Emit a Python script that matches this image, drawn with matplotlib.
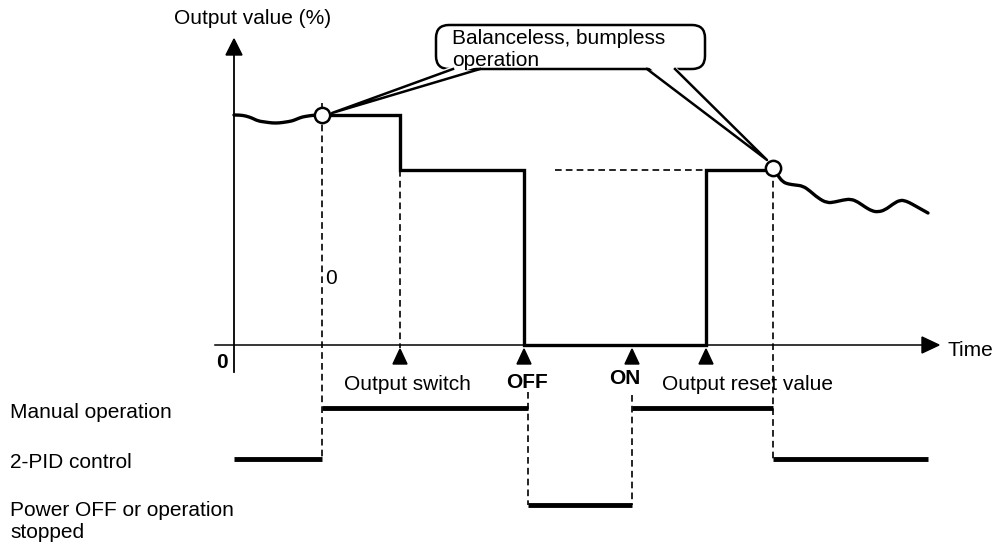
import numpy as np
import matplotlib.pyplot as plt
from matplotlib.patches import FancyBboxPatch, Polygon, PathPatch
from matplotlib.path import Path

plt.rcParams['font.family'] = ['Liberation Sans', 'DejaVu Sans']

# diagram coordinates are in picture units (x to the right, y downwards)
t_switch_on = 322      # manual operation starts
t_output_switch = 400
t_off = 524
t_on = 632
t_reset = 706
t_back = 773           # back to 2-PID control
t_end = 928

y_zero = 345
y_high = 115
y_mid = 170

# measured output before / after manual operation
wave_left_x = [234, 240, 246, 252, 258, 265, 272, 279, 286, 292, 297, 302, 308, 315, 322]
wave_left_y = [115, 115, 116, 118, 121, 122, 123, 123, 122, 121, 119, 117, 116, 115, 115]
wave_right_x = [773, 778, 783, 788, 795, 803, 810, 818, 827, 835, 843, 851, 858, 865,
                872, 878, 885, 893, 900, 906, 912, 919, 928]
wave_right_y = [168, 176, 182, 184, 185, 186, 191, 198, 203, 202, 200, 199, 202, 207,
                211, 212, 210, 204, 200, 201, 204, 208, 213]

# manual output steps
step_x = [t_switch_on, t_output_switch, t_output_switch, t_off, t_off, t_reset, t_reset, t_back]
step_y = [y_high, y_high, y_mid, y_mid, y_zero, y_zero, y_mid, y_mid]

# mode timeline rows
row_manual = 408
row_pid = 459
row_stop = 505
manual_spans = [(t_switch_on, 528), (t_on, t_back)]
pid_spans = [(234, t_switch_on), (t_back, t_end)]
stop_spans = [(528, t_on)]

# event markers: position, label, label centre x, label y, bold
markers = [(t_output_switch, 'Output switch', 407, 385, False),
           (t_off, 'OFF', 527, 382, True),
           (t_on, 'ON', 625, 379, True),
           (t_reset, 'Output reset value', 747, 385, False)]


def smooth_path(xs, ys):
    # quadratic bezier through midpoints so the wave looks hand drawn, not jagged
    pts = np.column_stack([xs, ys]).astype(float)
    verts = [pts[0]]
    codes = [Path.MOVETO]
    for i in range(1, len(pts) - 1):
        end = pts[i + 1] if i == len(pts) - 2 else (pts[i] + pts[i + 1]) / 2
        verts += [pts[i], end]
        codes += [Path.CURVE3, Path.CURVE3]
    return Path(verts, codes)


fig = plt.figure(figsize=(9.97, 5.46), dpi=100)
ax = fig.add_axes([0, 0, 1, 1])
ax.set_xlim(0, 997)
ax.set_ylim(546, 0)
ax.axis('off')

k = 'black'
fs = 15
# axes
ax.plot([234, 234], [372, 52], color=k, lw=1.3)
ax.add_patch(Polygon([[226, 55], [242, 55], [234, 39]], closed=True, color=k))
ax.plot([215, 925], [y_zero, y_zero], color=k, lw=1.1)
ax.add_patch(Polygon([[922, 337], [922, 353], [939, 345]], closed=True, color=k))
ax.text(174, 18, 'Output value (%)', fontsize=fs, va='center', ha='left')
ax.text(947, 351, 'Time', fontsize=fs, va='center', ha='left')
ax.text(216, 362, '0', fontsize=fs, fontweight='bold', va='center', ha='left')
ax.text(325, 279, '0', fontsize=fs, va='center', ha='left')

# dashed guides
dash = dict(color=k, lw=1.2, ls=(0, (4, 2.5)))
ax.plot([t_switch_on, t_switch_on], [103, row_pid], **dash)
ax.plot([t_output_switch, t_output_switch], [y_mid, 348], **dash)
ax.plot([t_back, t_back], [y_mid, row_pid], **dash)
ax.plot([555, t_reset], [y_mid, y_mid], **dash)
ax.plot([528, 528], [392, row_stop], **dash)
ax.plot([t_on, t_on], [395, row_stop], **dash)

# output curve
for xs, ys in [(wave_left_x, wave_left_y), (wave_right_x, wave_right_y)]:
    ax.add_patch(PathPatch(smooth_path(xs, ys), facecolor='none', edgecolor=k, lw=2.4,
                           capstyle='round', joinstyle='round'))
ax.plot(step_x, step_y, color=k, lw=2.4, solid_joinstyle='miter')

# event markers
for xm, label, lx, ly, bold in markers:
    ax.add_patch(Polygon([[xm - 7, 364], [xm + 7, 364], [xm, 349]], closed=True, color=k))
    ax.text(lx, ly, label, fontsize=fs, fontweight='bold' if bold else 'normal',
            ha='center', va='center')

# mode rows
for spans, y in [(manual_spans, row_manual), (pid_spans, row_pid), (stop_spans, row_stop)]:
    for a, b in spans:
        ax.plot([a, b], [y, y], color=k, lw=3.5, solid_capstyle='butt')
ax.text(10, 412, 'Manual operation', fontsize=fs, va='center')
ax.text(10, 462, '2-PID control', fontsize=fs, va='center')
ax.text(10, 510, 'Power OFF or operation', fontsize=fs, va='center')
ax.text(10, 532, 'stopped', fontsize=fs, va='center')

# callout
box = FancyBboxPatch((436, 25), 269, 44, boxstyle='round,pad=0,rounding_size=13',
                     facecolor='white', edgecolor=k, lw=1.8, zorder=5)
ax.add_patch(box)
tails = [((453, 480), (t_switch_on + 10, y_high - 2)), ((647, 675), (t_back - 6, y_mid - 10))]
for (b0, b1), tip in tails:
    ax.add_patch(Polygon([[b0, 66], [b1, 66], list(tip)], closed=True, facecolor='white',
                         edgecolor='none', zorder=6))
    ax.plot([b0, tip[0], b1], [69, tip[1], 69], color=k, lw=1.8, zorder=7)
ax.text(452, 38, 'Balanceless, bumpless', fontsize=fs, va='center', zorder=8)
ax.text(452, 61, 'operation', fontsize=fs, va='center', zorder=8)

# balance points
ax.plot([t_switch_on, t_back], [y_high, 168], 'o', ms=11, mfc='white', mec=k, mew=1.8, zorder=9)

fig.savefig('out.png', dpi=100)
